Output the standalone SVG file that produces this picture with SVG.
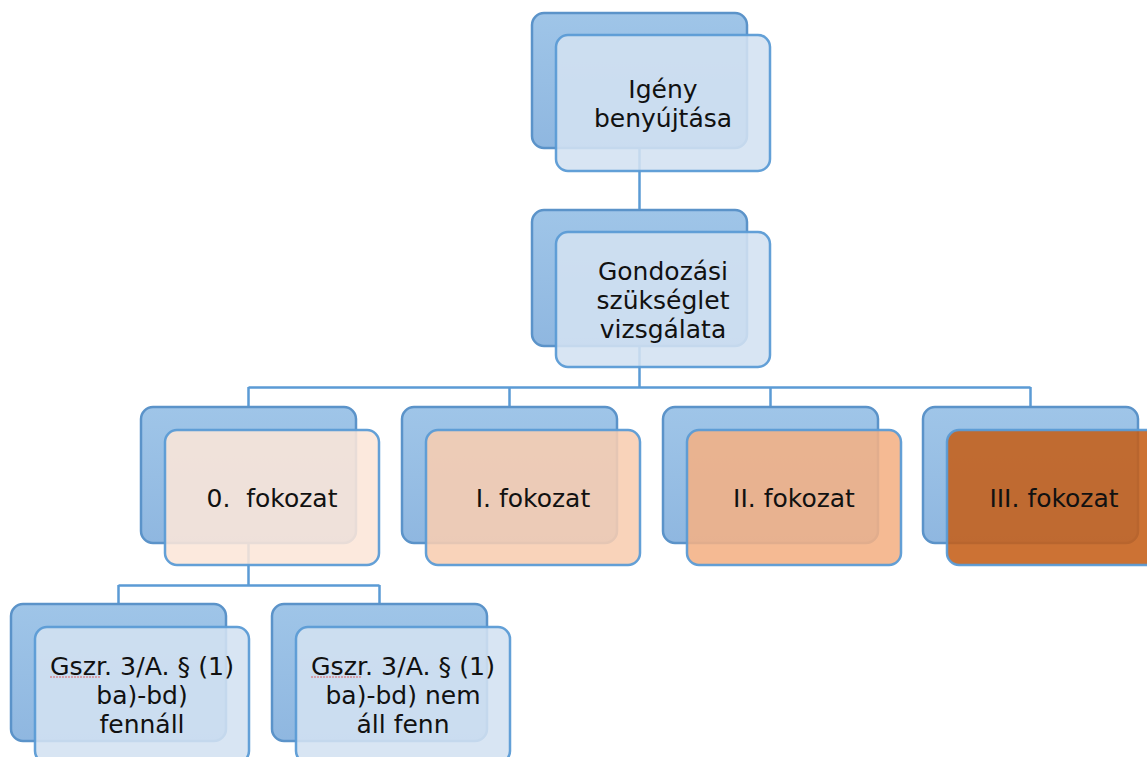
<svg xmlns="http://www.w3.org/2000/svg" width="1147" height="757" viewBox="0 0 1147 757">
<defs>
<linearGradient id="bg" x1="0" y1="0" x2="0" y2="1">
<stop offset="0" stop-color="#9fc5e8"/>
<stop offset="1" stop-color="#8fb7e0"/>
</linearGradient>
<style>
.back{fill:url(#bg);stroke:#5b93c9;stroke-width:2.5}
.front{stroke:#5b9bd5;stroke-width:2.5;fill-opacity:0.88;stroke-opacity:0.95}
.blue{fill:#d3e1f1}
.o0{fill:#fce6d8}
.o1{fill:#f8cdb0}
.o2{fill:#f4b184}
.o3{fill:#c55f18}
.conn{stroke:#5b9bd5;stroke-width:2.5;fill:none}
text{font-family:"DejaVu Sans","Liberation Sans",sans-serif;font-size:25px;fill:#111;text-anchor:middle}
</style>
</defs>
<rect width="1147" height="757" fill="#fff"/>
<g id="connectors">
<path class="conn" d="M639.5 80V300"/>
<path class="conn" d="M639.5 340V387.5M248.5 387.5H1030.5M248.5 387V430M509.5 387V430M770.5 387V430M1030.5 387V430"/>
<path class="conn" d="M248.5 540V585.5M118.5 585.5H379.5M118.5 585V620M379.5 585V620"/>
</g>
<g id="node-igeny">
<rect class="back" x="532" y="13" width="215" height="135" rx="12"/>
<rect class="front blue" x="556" y="35" width="214" height="136" rx="12"/>
<text x="663" y="98">Igény</text>
<text x="663" y="127">benyújtása</text>
</g>
<g id="node-gondozasi">
<rect class="back" x="532" y="210" width="215" height="136" rx="12"/>
<rect class="front blue" x="556" y="232" width="214" height="135" rx="12"/>
<text x="663" y="280">Gondozási</text>
<text x="663" y="309">szükséglet</text>
<text x="663" y="338">vizsgálata</text>
</g>
<g id="node-f0">
<rect class="back" x="141" y="407" width="215" height="136" rx="12"/>
<rect class="front o0" x="165" y="430" width="214" height="135" rx="12"/>
<text x="272" y="507" xml:space="preserve">0.  fokozat</text>
</g>
<g id="node-f1">
<rect class="back" x="402" y="407" width="215" height="136" rx="12"/>
<rect class="front o1" x="426" y="430" width="214" height="135" rx="12"/>
<text x="533" y="507">I. fokozat</text>
</g>
<g id="node-f2">
<rect class="back" x="663" y="407" width="215" height="136" rx="12"/>
<rect class="front o2" x="687" y="430" width="214" height="135" rx="12"/>
<text x="794" y="507">II. fokozat</text>
</g>
<g id="node-f3">
<rect class="back" x="923" y="407" width="215" height="136" rx="12"/>
<rect class="front o3" x="947" y="430" width="214" height="135" rx="12"/>
<text x="1054" y="507">III. fokozat</text>
</g>
<g id="node-fennall">
<rect class="back" x="11" y="604" width="215" height="137" rx="12"/>
<rect class="front blue" x="35" y="627" width="214" height="136" rx="12"/>
<text x="142" y="675" textLength="184" lengthAdjust="spacingAndGlyphs">Gszr. 3/A. § (1)</text>
<text x="142" y="704">ba)-bd)</text>
<text x="142" y="733">fennáll</text>
<path d="M50 677H100" stroke="#e06060" stroke-width="1" stroke-dasharray="2 1"/>
</g>
<g id="node-nemall">
<rect class="back" x="272" y="604" width="215" height="137" rx="12"/>
<rect class="front blue" x="296" y="627" width="214" height="136" rx="12"/>
<text x="403" y="675" textLength="184" lengthAdjust="spacingAndGlyphs">Gszr. 3/A. § (1)</text>
<text x="403" y="704">ba)-bd) nem</text>
<text x="403" y="733">áll fenn</text>
<path d="M311 677H361" stroke="#e06060" stroke-width="1" stroke-dasharray="2 1"/>
</g>
</svg>
